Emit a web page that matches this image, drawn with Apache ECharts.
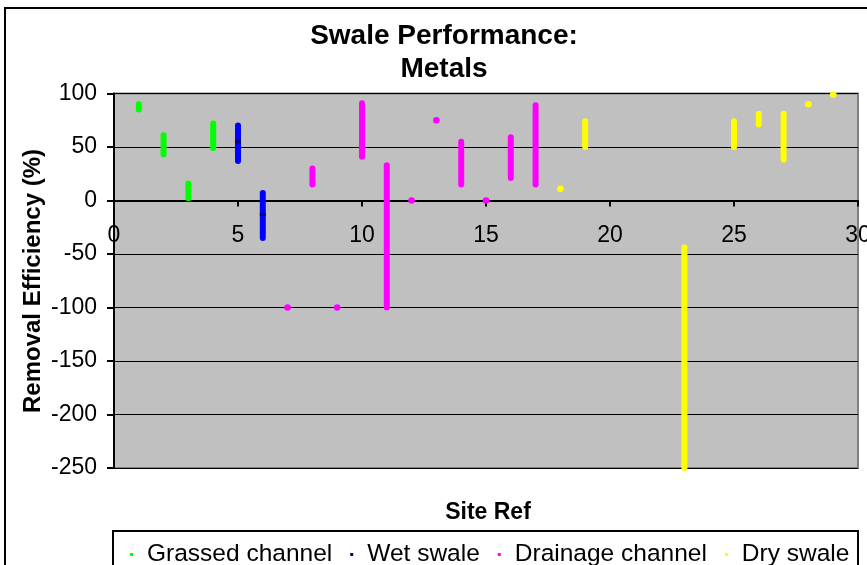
<!DOCTYPE html>
<html>
<head>
<meta charset="utf-8">
<script src="https://cdn.jsdelivr.net/npm/echarts@6/dist/echarts.min.js"></script>
<style>
  html, body { margin: 0; padding: 0; background: #ffffff; }
  #chart { width: 867px; height: 565px; }
</style>
</head>
<body>
<div id="chart"></div>
<script>
// Removal efficiency range (%) per site, grouped by swale type
const grassedSites = [1, 2, 3, 4];
const grassedLow   = [85, 43, 2, 49];
const grassedHigh  = [90, 61, 16, 72];

const wetSites = [5, 6];
const wetLow   = [37, -35];
const wetHigh  = [70, 7];
const wetMid   = [55, -13];

const drainageSites = [7, 8, 9, 10, 11, 12, 13, 14, 15, 16, 17];
const drainageLow   = [-100, 15, -100, 41, -100, 0, 75, 15, 0, 21, 15];
const drainageHigh  = [-100, 30, -100, 91, 33, 0, 75, 55, 0, 59, 89];

const drySites = [18, 19, 23, 25, 26, 27, 28, 29];
const dryLow   = [11, 50, -250, 50, 71, 38, 90, 99];
const dryHigh  = [11, 74, -44, 74, 81, 81, 90, 99];

const xTicks = [0, 5, 10, 15, 20, 25, 30];
const yTicks = [-250, -200, -150, -100, -50, 0, 50, 100];

const FONT = '"Liberation Sans", Arial, sans-serif';

const GRID = { left: 114, top: 93.5, width: 744, height: 374.5 };
// vertical distance from the grid bottom up to the zero line
const zeroOffset = GRID.height * (0 - yTicks[0]) / (yTicks[yTicks.length - 1] - yTicks[0]);

function rows(sites, low, high, mid) {
  return sites.map((s, i) => mid ? [s, low[i], high[i], mid[i]] : [s, low[i], high[i]]);
}

// Draws a rounded vertical bar from low to high (a dot when they coincide)
function rangeRenderer(lineColor, markColor) {
  return function (params, api) {
    const x = api.value(0);
    const lo = api.value(1);
    const hi = api.value(2);
    const pTop = api.coord([x, hi]);
    const pBot = api.coord([x, lo]);
    const children = [];
    if (Math.abs(pTop[1] - pBot[1]) < 0.5) {
      children.push({
        type: 'circle',
        shape: { cx: pTop[0], cy: pTop[1], r: 3.3 },
        style: { fill: lineColor }
      });
    } else {
      children.push({
        type: 'line',
        shape: { x1: pTop[0], y1: pTop[1], x2: pBot[0], y2: pBot[1] },
        style: { stroke: lineColor, lineWidth: 6, lineCap: 'round' }
      });
    }
    if (markColor) {
      const pm = api.coord([x, api.value(3)]);
      children.push({
        type: 'rect',
        shape: { x: pm[0] - 3, y: pm[1] - 1.5, width: 6, height: 3 },
        style: { fill: markColor }
      });
    }
    return { type: 'group', children: children };
  };
}

const chart = echarts.init(document.getElementById('chart'), null, { renderer: 'canvas' });

chart.setOption({
  animation: false,
  backgroundColor: '#ffffff',
  grid: {
    left: GRID.left, top: GRID.top, width: GRID.width, height: GRID.height,
    containLabel: false, outerBoundsMode: 'none',
    show: true, backgroundColor: '#C0C0C0', borderColor: '#808080', borderWidth: 2
  },
  graphic: [
    {
      type: 'rect', z: -10, silent: true,
      shape: { x: 5, y: 8, width: 900, height: 600 },
      style: { fill: 'none', stroke: '#000000', lineWidth: 2 }
    },
    {
      type: 'rect', z: -5, silent: true,
      shape: { x: 113, y: 531, width: 745, height: 60 },
      style: { fill: '#ffffff', stroke: '#000000', lineWidth: 2 }
    },
    {
      type: 'text', silent: true, x: 444, y: 36,
      style: {
        text: 'Swale Performance:', font: 'bold 28px ' + FONT,
        fill: '#000000', textAlign: 'center', textVerticalAlign: 'middle'
      }
    },
    {
      type: 'text', silent: true, x: 444, y: 69,
      style: {
        text: 'Metals', font: 'bold 28px ' + FONT,
        fill: '#000000', textAlign: 'center', textVerticalAlign: 'middle'
      }
    },
    {
      type: 'text', silent: true, x: 488, y: 513,
      style: {
        text: 'Site Ref', font: 'bold 23px ' + FONT,
        fill: '#000000', textAlign: 'center', textVerticalAlign: 'middle'
      }
    },
    {
      type: 'text', silent: true, x: 33, y: 281, rotation: Math.PI / 2,
      style: {
        text: 'Removal Efficiency (%)', font: 'bold 24px ' + FONT,
        fill: '#000000', textAlign: 'center', textVerticalAlign: 'middle'
      }
    }
  ],
  legend: {
    left: 125, top: 537,
    itemWidth: 3, itemHeight: 3, itemGap: 18, icon: 'rect',
    textStyle: { fontFamily: FONT, fontSize: 24.5, color: '#000000', padding: [0, 0, 0, 9] },
    data: ['Grassed channel', 'Wet swale', 'Drainage channel', 'Dry swale']
  },
  xAxis: {
    type: 'value', min: xTicks[0], max: xTicks[xTicks.length - 1], interval: 5,
    position: 'bottom', offset: -zeroOffset,
    axisLine: { onZero: false, lineStyle: { color: '#000000', width: 2 } },
    axisTick: { show: true, length: 6, lineStyle: { color: '#000000', width: 2 } },
    axisLabel: { margin: 24, fontFamily: FONT, fontSize: 23, color: '#000000' },
    splitLine: { show: false }
  },
  yAxis: {
    type: 'value', min: yTicks[0], max: yTicks[yTicks.length - 1], interval: 50,
    axisLine: { show: true, onZero: false, lineStyle: { color: '#000000', width: 2 } },
    axisTick: { show: true, length: 7, lineStyle: { color: '#000000', width: 2 } },
    axisLabel: { margin: 17, fontFamily: FONT, fontSize: 23, color: '#000000' },
    splitLine: { show: true, lineStyle: { color: '#000000', width: 1 } }
  },
  series: [
    {
      name: 'Grassed channel', type: 'custom', clip: false,
      itemStyle: { color: '#00FF00' },
      encode: { x: 0, y: [1, 2] },
      data: rows(grassedSites, grassedLow, grassedHigh),
      renderItem: rangeRenderer('#00FF00')
    },
    {
      name: 'Wet swale', type: 'custom', clip: false,
      itemStyle: { color: '#000080' },
      encode: { x: 0, y: [1, 2, 3] },
      data: rows(wetSites, wetLow, wetHigh, wetMid),
      renderItem: rangeRenderer('#0000FF', '#000080')
    },
    {
      name: 'Drainage channel', type: 'custom', clip: false,
      itemStyle: { color: '#FF00FF' },
      encode: { x: 0, y: [1, 2] },
      data: rows(drainageSites, drainageLow, drainageHigh),
      renderItem: rangeRenderer('#FF00FF')
    },
    {
      name: 'Dry swale', type: 'custom', clip: false,
      itemStyle: { color: '#FFFF00' },
      encode: { x: 0, y: [1, 2] },
      data: rows(drySites, dryLow, dryHigh),
      renderItem: rangeRenderer('#FFFF00')
    }
  ]
});
</script>
</body>
</html>
